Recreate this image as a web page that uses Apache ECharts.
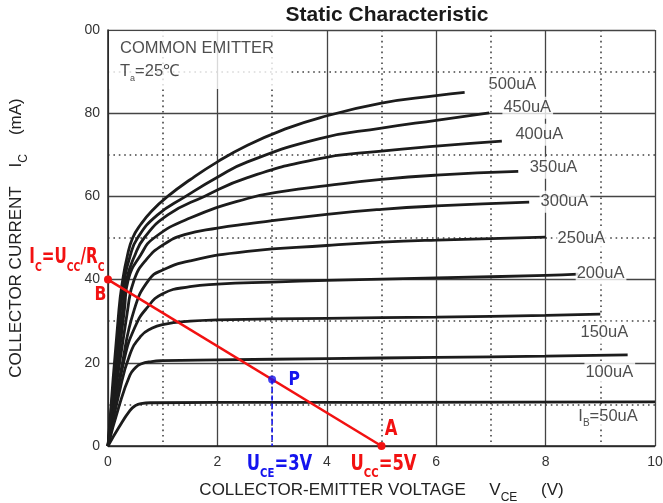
<!DOCTYPE html>
<html><head><meta charset="utf-8">
<script src="https://cdn.jsdelivr.net/npm/echarts@6/dist/echarts.min.js"></script>
<style>html,body{margin:0;padding:0;background:#fff}#c{width:663px;height:503px}</style>
</head><body><div id="c"></div>
<script>
// ---------- data ----------
const xTickValues = [0, 2, 4, 6, 8, 10];
const yTickValues = [0, 20, 40, 60, 80, 100];
const yTickLabels = ['0', '20', '40', '60', '80', '00'];

const curveNames = ['I{sub|B}=50uA', '100uA', '150uA', '200uA', '250uA', '300uA', '350uA', '400uA', '450uA', '500uA'];

const vce50  = [0, 0.2, 0.4, 0.5, 0.6, 0.8, 2, 5, 10];
const ic50   = [0, 4.5, 8.5, 9.7, 10.2, 10.4, 10.5, 10.5, 10.6];
const vce100 = [0, 0.2, 0.4, 0.5, 0.6, 0.8, 1, 2, 4, 6, 8, 9.5];
const ic100  = [0, 9.5, 17, 18.8, 19.7, 20.3, 20.5, 20.7, 21, 21.3, 21.6, 21.9];
const vce150 = [0, 0.2, 0.4, 0.6, 0.8, 1, 1.5, 2, 4, 6, 8, 9];
const ic150  = [0, 12.5, 22, 26.4, 28.3, 29.2, 30, 30.3, 30.7, 31, 31.4, 31.7];
const vce200 = [0, 0.3, 0.5, 0.7, 1, 1.5, 2, 3, 4, 6, 8, 8.6];
const ic200  = [0, 21, 28.8, 33, 36.6, 38.3, 38.9, 39.4, 39.8, 40.4, 41, 41.3];
const vce250 = [0, 0.25, 0.48, 0.75, 1, 1.5, 2.55, 4, 5, 6, 8];
const ic250  = [0, 19, 32.8, 40, 42.3, 44.5, 46.8, 48.2, 49, 49.5, 50.2];
const vce300 = [0, 0.36, 0.48, 0.7, 1, 1.4, 2, 2.55, 4, 5, 6, 7.7];
const ic300  = [0, 32.8, 40, 44.8, 48.3, 50.8, 52.4, 53.4, 55.7, 56.9, 57.7, 58.6];
const vce350 = [0, 0.3, 0.37, 0.6, 0.84, 1.5, 2.55, 3.2, 4, 5, 6, 7.5];
const ic350  = [0, 32.8, 40, 46, 50, 54.8, 59.5, 61.2, 62.6, 64.1, 65.1, 66];
const vce400 = [0, 0.27, 0.34, 0.48, 0.66, 1.1, 1.76, 2.55, 3.87, 5, 6, 7.2];
const ic400  = [0, 32.8, 40, 45.5, 50, 55.6, 60, 64.5, 69.1, 70.9, 72.1, 73.3];
const vce450 = [0, 0.23, 0.3, 0.4, 0.54, 0.9, 1.42, 2, 2.55, 3.87, 5, 6, 6.97];
const ic450  = [0, 32.8, 40, 45.5, 50, 55.5, 60, 64.6, 68.3, 73.9, 76.4, 78.3, 80.1];
const vce500 = [0, 0.2, 0.27, 0.35, 0.45, 0.6, 0.8, 1.09, 1.5, 2, 2.55, 3.2, 3.87, 5, 6, 6.52];
const ic500  = [0, 32.8, 40, 45.5, 50, 53.3, 56.5, 60, 64, 68.3, 72.3, 76, 78.9, 82.4, 84.2, 85];

const loadLineV = [0, 5];     // B -> A
const loadLineI = [40, 0];
const qPointV = 3, qPointI = 16; // P

// ---------- build ----------
const curves = [[vce50, ic50], [vce100, ic100], [vce150, ic150], [vce200, ic200], [vce250, ic250],
                [vce300, ic300], [vce350, ic350], [vce400, ic400], [vce450, ic450], [vce500, ic500]];
const zip = (a, b) => a.map((v, i) => [v, b[i]]);

// label anchors (data space, left-middle of the text)
const curveLabelAt = [[8.58, 7.0], [8.71, 17.6], [8.62, 27.2], [8.55, 41.4], [8.20, 49.8],
                      [7.89, 58.7], [7.69, 66.9], [7.43, 74.8], [7.21, 81.3], [6.94, 86.9]];

const FONT = "'Liberation Sans', Arial, Helvetica, sans-serif";
const BOLDF = "'DejaVu Sans', sans-serif";
const RED = '#f21111', BLUE = '#1414ee';

const series = [];
curves.forEach((c) => {
  series.push({
    type: 'line', data: zip(c[0], c[1]), smooth: 0.5,
    showSymbol: false, symbol: 'none', silent: true, z: 3,
    lineStyle: { color: '#1c1c1c', width: 2.8 }
  });
});
series.push({
  type: 'line', data: zip(loadLineV, loadLineI), clip: false, silent: true, z: 5,
  symbol: 'circle', symbolSize: 8, showSymbol: true,
  lineStyle: { color: RED, width: 2.5 }, itemStyle: { color: RED }
});
series.push({
  type: 'line', data: [[qPointV, qPointI], [qPointV, 0]], silent: true, z: 4,
  symbol: 'none', lineStyle: { color: BLUE, width: 1.6, type: [5, 3] }
});
series.push({
  type: 'scatter', data: [[qPointV, qPointI]], symbolSize: 8, z: 6, silent: true,
  itemStyle: { color: BLUE }
});
series.push({
  type: 'scatter', symbolSize: 0, clip: false, silent: true, z: 8,
  data: curveLabelAt.map((p, k) => ({
    value: p,
    label: {
      show: true, position: [0, 0], align: 'left', verticalAlign: 'middle',
      formatter: curveNames[k], fontSize: 16.5, color: '#222', fontFamily: FONT,
      lineHeight: 22, backgroundColor: '#fff', padding: [0, 2, 0, 1],
      rich: { sub: { fontSize: 10, color: '#222', fontFamily: FONT, verticalAlign: 'bottom' } }
    }
  }))
});
series.push({
  type: 'scatter', symbolSize: 0, clip: false, silent: true, z: 9,
  data: [
    { value: [0, 100], label: {
        show: true, position: [1, 1], align: 'left', verticalAlign: 'top',
        formatter: 'COMMON EMITTER\nT{sub|a}=25℃', fontSize: 16.5, color: '#222', fontFamily: FONT,
        lineHeight: 23, width: 165, backgroundColor: '#fff', padding: [6, 5, 6, 11],
        rich: { sub: { fontSize: 9, color: '#222', fontFamily: FONT, verticalAlign: 'bottom' } } } }
  ]
});

const chart = echarts.init(document.getElementById('c'), null, { renderer: 'canvas' });
chart.setOption({
  animation: false,
  backgroundColor: '#fff',
  title: {
    text: 'Static Characteristic', left: 387, top: 5, padding: 0, textAlign: 'center',
    textStyle: { fontSize: 21, fontWeight: 'bold', color: '#1a1a1a', fontFamily: FONT }
  },
  grid: { left: 108, top: 30, width: 547, height: 416, containLabel: false, outerBoundsMode: 'none' },
  xAxis: {
    type: 'value', min: xTickValues[0], max: xTickValues[xTickValues.length - 1], interval: 2,
    name: 'COLLECTOR-EMITTER VOLTAGE     V{sub|CE}     (V)', nameLocation: 'middle', nameGap: 30,
    nameTextStyle: { fontSize: 17, color: '#222', fontFamily: FONT, lineHeight: 28,
      rich: { sub: { fontSize: 12, color: '#222', fontFamily: FONT, verticalAlign: 'bottom' } } },
    axisLine: { show: true, onZero: false, lineStyle: { color: '#222', width: 1.5 } },
    axisTick: { show: false },
    axisLabel: { fontSize: 14, color: '#333', margin: 9, fontFamily: FONT },
    splitLine: { show: true, lineStyle: { color: '#444', width: 1.3 } },
    minorTick: { show: false, splitNumber: 2 },
    minorSplitLine: { show: true, lineStyle: { color: '#444', width: 1.6, type: [1.6, 3.8] } }
  },
  yAxis: {
    type: 'value', min: yTickValues[0], max: yTickValues[yTickValues.length - 1], interval: 20,
    name: 'COLLECTOR CURRENT    I{sub|C}    (mA)', nameLocation: 'middle', nameGap: 78,
    nameTextStyle: { fontSize: 17, color: '#222', fontFamily: FONT, lineHeight: 28,
      rich: { sub: { fontSize: 12, color: '#222', fontFamily: FONT, verticalAlign: 'bottom' } } },
    axisLine: { show: true, onZero: false, lineStyle: { color: '#222', width: 1.5 } },
    axisTick: { show: false },
    axisLabel: { fontSize: 14, color: '#333', margin: 8, fontFamily: FONT,
      formatter: v => { const i = yTickValues.indexOf(v); return i >= 0 ? yTickLabels[i] : ''; } },
    splitLine: { show: true, lineStyle: { color: '#444', width: 1.3 } },
    minorTick: { show: false, splitNumber: 2 },
    minorSplitLine: { show: true, lineStyle: { color: '#444', width: 1.6, type: [1.6, 3.8] } }
  },
  series: series
});

// condensed bold annotations, anchored through the grid's own scales
const px = p => chart.convertToPixel({ gridIndex: 0 }, p);
function ann(anchor, dx, dy, text, color, align, size, lh, sx) {
  const p = px(anchor);
  const sub = { fontSize: 13, fontWeight: 'bold', fontFamily: BOLDF, fill: color, verticalAlign: 'bottom' };
  return {
    type: 'text', x: p[0] + dx, y: p[1] + dy, scaleX: sx || 0.78, z: 100, silent: true,
    style: { text, fill: color, fontSize: size, fontWeight: 'bold', fontFamily: BOLDF,
      align, verticalAlign: 'middle', lineHeight: lh, rich: { s: sub } }
  };
}
const B = [loadLineV[0], loadLineI[0]], A = [loadLineV[1], loadLineI[1]];
chart.setOption({
  graphic: [
    ann(B, -3.5, -22, 'I{s|C}=U{s|CC}/R{s|C}', RED, 'right', 21, 34, 0.72),
    ann(B, -7.5, 15.5, 'B', RED, 'center', 20, 24),
    ann(A, 9.5, -16, 'A', RED, 'center', 21, 24),
    ann([qPointV, qPointI], 16.5, 0, 'P', BLUE, 'left', 20, 24),
    ann([qPointV, 0], 7.4, 18.5, 'U{s|CE}=3V', BLUE, 'center', 21, 31),
    ann([loadLineV[1], 0], 2, 18.5, 'U{s|CC}=5V', RED, 'center', 21, 31)
  ]
});
</script>
</body></html>
